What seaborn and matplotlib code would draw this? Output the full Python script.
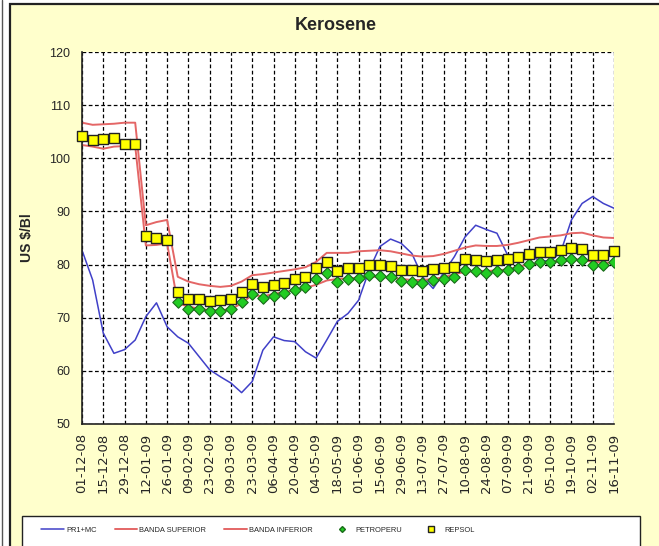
import matplotlib
matplotlib.use("Agg")
import matplotlib.pyplot as plt
from matplotlib.patches import Rectangle
from matplotlib.lines import Line2D
import seaborn as sns
import pandas as pd
import numpy as np

# Weekly data, 01-12-08 .. 16-11-09
start_date = "2008-12-01"
n_weeks = 51

pr1_mc = [82.7, 77.1, 67.1, 63.3, 64.0, 65.8, 70.2, 72.8, 68.3, 66.4, 65.2, 62.7, 60.2, 58.9, 57.7, 55.9, 58.0,
          63.9, 66.4, 65.7, 65.5, 63.6, 62.4, 65.8, 69.3, 70.8, 73.3, 79.0, 83.4, 84.8, 84.0, 82.1, 77.7,
          75.5, 78.5, 81.5, 85.2, 87.4, 86.6, 85.9, 81.8, 80.9, 81.5, 80.9, 80.5, 82.4, 88.4, 91.5, 92.8, 91.5, 90.6]

banda_superior = [106.7, 106.3, 106.4, 106.5, 106.7, 106.7, 87.4, 88.0, 88.4,
                  77.7, 76.8, 76.3, 76.0, 75.8, 76.0, 76.8, 78.0,
                  78.2, 78.5, 78.8, 79.1, 79.5, 80.5, 82.2, 82.2, 82.2, 82.5, 82.6, 82.7, 82.5, 82.1, 81.7, 81.5,
                  81.6, 82.0, 82.6, 83.2, 83.6, 83.5, 83.5, 83.7, 84.1, 84.6, 85.1, 85.3, 85.5, 85.9, 86.0, 85.5, 85.1, 85.0]

banda_inferior = [102.5, 102.2, 101.8, 102.2, 102.3, 102.3, 83.6, 83.7, 84.0,
                  72.7, 72.1, 71.7, 71.4, 71.4, 71.6, 72.7, 74.3,
                  74.0, 74.5, 74.8, 75.2, 75.6, 76.2, 77.0, 77.3, 77.4, 77.5, 77.7, 77.7, 77.5, 77.3, 77.1, 77.1,
                  77.3, 77.6, 78.2, 78.6, 78.8, 78.8, 78.9, 79.1, 79.6, 80.0, 80.2, 80.4, 80.7, 81.0, 80.9, 80.5, 80.4, 80.3]

petroperu = [None] * 9 + [73.0, 71.6, 71.6, 71.3, 71.3, 71.6, 73.0, 74.5,
                          73.8, 74.1, 74.6, 75.2, 75.7, 77.3, 78.5, 76.8, 77.2, 77.4, 78.0, 77.8, 77.7, 77.0, 76.8, 76.6,
                          77.1, 77.3, 77.6, 79.0, 78.8, 78.5, 78.8, 79.0, 79.3, 80.1, 80.4, 80.4, 80.9, 81.1, 80.9, 79.9, 79.9, 80.5]

repsol = [104.2, 103.4, 103.6, 103.8, 102.7, 102.7, 85.4, 85.0, 84.7,
          74.9, 73.6, 73.5, 73.2, 73.3, 73.5, 74.9, 76.4,
          75.8, 76.2, 76.5, 77.2, 77.7, 79.3, 80.5, 78.8, 79.3, 79.4, 80.0, 79.9, 79.7, 79.0, 78.9, 78.7,
          79.1, 79.4, 79.6, 81.0, 80.9, 80.6, 80.9, 81.1, 81.4, 82.0, 82.3, 82.4, 82.7, 83.2, 82.9, 81.8, 81.8, 82.6]

dates = pd.date_range(start_date, periods=n_weeks, freq="7D")

df = pd.DataFrame({
    "fecha": dates,
    "PR1+MC": pr1_mc,
    "BANDA SUPERIOR": banda_superior,
    "BANDA INFERIOR": banda_inferior,
    "PETROPERU": pd.to_numeric(pd.Series(petroperu), errors="coerce"),
    "REPSOL": repsol,
})

tick_dates = dates[::2]
tick_labels = [d.strftime("%d-%m-%y") for d in tick_dates]

sns.set_style("white")
plt.rcParams["font.family"] = ["Liberation Sans", "DejaVu Sans"]

W, H = 659, 546
fig = plt.figure(figsize=(W / 100, H / 100), dpi=100)
fig.patch.set_facecolor("white")

# yellow chart area like excel
fig.patches.append(Rectangle((10 / W, -0.01), 1.0, 1 - 4 / H + 0.01, transform=fig.transFigure,
                             facecolor="#FFFFCC", edgecolor="#222222", lw=1.6, zorder=-10))
fig.lines.append(Line2D([2 / W, 2 / W], [0, 1], transform=fig.transFigure, color="#555555", lw=1))

ax = fig.add_axes([82 / W, 1 - 424 / H, (614 - 82) / W, (424 - 52) / H])
ax.set_facecolor("white")

sns.lineplot(data=df, x="fecha", y="PR1+MC", ax=ax, color="#4040C8", lw=1.1, label="PR1+MC")
sns.lineplot(data=df, x="fecha", y="BANDA SUPERIOR", ax=ax, color="#E46666", lw=1.4, label="BANDA SUPERIOR")
sns.lineplot(data=df, x="fecha", y="BANDA INFERIOR", ax=ax, color="#E46666", lw=1.4, label="BANDA INFERIOR")
sns.scatterplot(data=df, x="fecha", y="PETROPERU", ax=ax, marker="D", s=34, color="#22CC22",
                edgecolor="#1A6A1A", linewidth=0.8, label="PETROPERU", zorder=4)
sns.scatterplot(data=df, x="fecha", y="REPSOL", ax=ax, marker="s", s=52, color="#FFFF00",
                edgecolor="#222222", linewidth=1.0, label="REPSOL", zorder=5, clip_on=False)

if ax.get_legend() is not None:
    ax.get_legend().remove()

ax.set_xlim(dates[0], dates[-1])
ax.set_ylim(50, 120)
ax.set_yticks(np.arange(50, 121, 10))
ax.set_xticks(tick_dates)
ax.set_xticklabels(tick_labels, rotation=90, fontsize=9.5, family="DejaVu Sans")
ax.tick_params(axis="y", labelsize=9, direction="inout", length=7, width=1, color="black", pad=5)
ax.tick_params(axis="x", direction="inout", length=7, width=1, color="black", pad=3)
ax.set_xlabel("")
ax.set_ylabel("")

ax.grid(True, color="black", linestyle=(0, (3, 2)), linewidth=0.9)
for side in ["top", "right"]:
    ax.spines[side].set_visible(False)
for side in ["left", "bottom"]:
    ax.spines[side].set_color("#222222")
    ax.spines[side].set_linewidth(1.2)

fig.text(336 / W, 1 - 25 / H, "Kerosene", ha="center", va="center", fontsize=13, fontweight="bold")
fig.text(27 / W, 1 - 238 / H, "US $/Bl", ha="center", va="center", rotation=90, fontsize=10, fontweight="bold")

# legend box (excel style, entries packed at the left)
fig.patches.append(Rectangle((22 / W, -0.01), (640 - 22) / W, 1 - 516 / H + 0.01, transform=fig.transFigure,
                             facecolor="white", edgecolor="#222222", lw=1.0, zorder=1))

handles = [
    Line2D([], [], color="#4040C8", lw=1.1),
    Line2D([], [], color="#E46666", lw=1.4),
    Line2D([], [], color="#E46666", lw=1.4),
    Line2D([], [], ls="none", marker="D", markersize=3, color="#22CC22", markeredgecolor="#1A6A1A"),
    Line2D([], [], ls="none", marker="s", markersize=4, color="#FFFF00", markeredgecolor="#222222"),
]
labels = ["PR1+MC", "BANDA SUPERIOR", "BANDA INFERIOR", "PETROPERU", "REPSOL"]
leg = fig.legend(handles, labels, loc="center left", ncol=5,
                 bbox_to_anchor=(36 / W, 1 - 530 / H),
                 prop={"size": 5.4},
                 handlelength=3.0, frameon=False,
                 borderpad=0.2, columnspacing=2.4, handletextpad=0.3)
leg.set_zorder(2)

fig.savefig("out.png", dpi=100)
